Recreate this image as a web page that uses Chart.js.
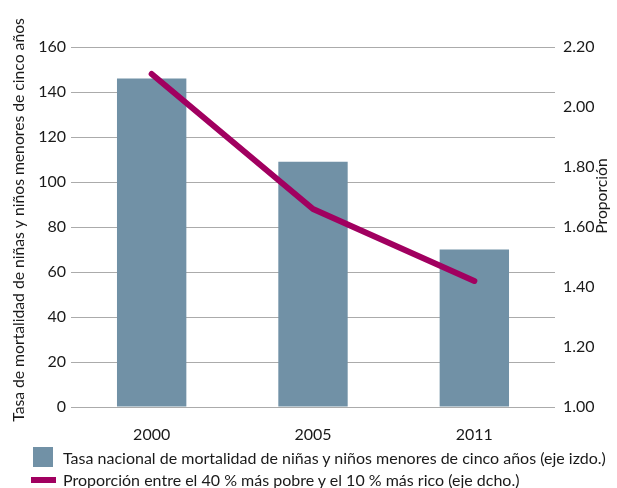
<!DOCTYPE html>
<html lang="es">
<head>
<meta charset="utf-8">
<title>Mortalidad de menores de cinco años</title>
<script src="https://cdn.jsdelivr.net/npm/chart.js@4.4.1/dist/chart.umd.min.js"></script>
<style>
  html, body { margin: 0; padding: 0; background: #ffffff; }
  #wrap { position: relative; width: 617px; height: 488px; font-family: Lato, "Open Sans", sans-serif; color: #1a1a1a; }
  #wrap canvas { position: absolute; left: 0; top: 0; }
  .leg { position: absolute; left: 0; font-size: 16px; white-space: nowrap; line-height: 1; }
  .leg .sw { position: absolute; }
  .leg .tx { position: absolute; left: 63px; top: 0; transform: translateY(-50%); }
  #leg1 { top: 458px; }
  #leg1 .sw { left: 33px; top: -11px; width: 20px; height: 20px; background: #7191a6; }
  #leg2 { top: 480px; }
  #leg2 .sw { left: 31px; top: -3px; width: 25px; height: 6px; background: #a10060; }
</style>
</head>
<body>
<div id="wrap">
  <canvas id="chart" width="617" height="488"></canvas>
  <div class="leg" id="leg1"><span class="sw"></span><span class="tx">Tasa nacional de mortalidad de niñas y niños menores de cinco años (eje izdo.)</span></div>
  <div class="leg" id="leg2"><span class="sw"></span><span class="tx">Proporción entre el 40 % más pobre y el 10 % más rico (eje dcho.)</span></div>
</div>
<script>
// Years shown on the category axis
const years = ['2000', '2005', '2011'];
// Under-five mortality rate (left axis)
const mortalityRate = [146, 109, 70];
// Ratio between poorest 40 % and richest 10 % (right axis)
const poorRichRatio = [2.11, 1.66, 1.42];
// Axis titles
const leftTitle = 'Tasa de mortalidad de niñas y niños menores de cinco años';
const rightTitle = 'Proporción';

const tickFont = { family: 'Lato, "Open Sans", sans-serif', size: 16 };
const textColor = '#1a1a1a';
const titleFont = '15.7px Lato, "Open Sans", sans-serif';

// Draws the rotated axis titles beside the chart area
const axisTitles = {
  id: 'axisTitles',
  afterDraw(chart) {
    const { ctx, chartArea } = chart;
    ctx.save();
    ctx.fillStyle = textColor;
    ctx.font = titleFont;
    ctx.textAlign = 'center';
    ctx.textBaseline = 'middle';
    const mid = (chartArea.top + chartArea.bottom) / 2;
    ctx.translate(19, mid - 7);
    ctx.rotate(-Math.PI / 2);
    ctx.fillText(leftTitle, 0, 0);
    ctx.restore();

    ctx.save();
    ctx.fillStyle = textColor;
    ctx.font = titleFont;
    ctx.textAlign = 'center';
    ctx.textBaseline = 'middle';
    ctx.translate(chart.width - 15, chartArea.top + 149);
    ctx.rotate(-Math.PI / 2);
    ctx.fillText(rightTitle, 0, 0);
    ctx.restore();
  }
};

new Chart(document.getElementById('chart'), {
  data: {
    labels: years,
    datasets: [
      {
        type: 'line',
        label: 'Proporción entre el 40 % más pobre y el 10 % más rico (eje dcho.)',
        data: poorRichRatio,
        yAxisID: 'yRight',
        borderColor: '#a10060',
        backgroundColor: '#a10060',
        borderWidth: 6,
        borderCapStyle: 'round',
        borderJoinStyle: 'round',
        pointRadius: 0,
        tension: 0,
        order: 0
      },
      {
        type: 'bar',
        label: 'Tasa nacional de mortalidad de niñas y niños menores de cinco años (eje izdo.)',
        data: mortalityRate,
        yAxisID: 'yLeft',
        backgroundColor: '#7191a6',
        borderWidth: 0,
        barPercentage: 0.43,
        categoryPercentage: 1,
        order: 1
      }
    ]
  },
  options: {
    responsive: false,
    animation: false,
    layout: { padding: { top: 47, bottom: 41, left: 0, right: 0 } },
    plugins: { legend: { display: false }, tooltip: { enabled: false } },
    scales: {
      x: {
        grid: { display: false, drawTicks: false },
        border: { display: false },
        ticks: { color: textColor, font: tickFont, padding: 18 },
        afterFit(scale) { scale.height = 40; }
      },
      yLeft: {
        position: 'left',
        min: 0,
        max: 160,
        ticks: { stepSize: 20, color: textColor, font: tickFont, padding: 5 },
        grid: { color: '#ababab', lineWidth: 1, drawTicks: false },
        border: { display: false },
        afterFit(scale) { scale.width = 71; }
      },
      yRight: {
        position: 'right',
        min: 1,
        max: 2.2,
        ticks: {
          stepSize: 0.2,
          color: textColor,
          font: tickFont,
          padding: 8,
          callback: (v) => Number(v).toFixed(2)
        },
        grid: { display: false, drawTicks: false },
        border: { display: false },
        afterFit(scale) { scale.width = 62; }
      }
    }
  },
  plugins: [axisTitles]
});
</script>
</body>
</html>
